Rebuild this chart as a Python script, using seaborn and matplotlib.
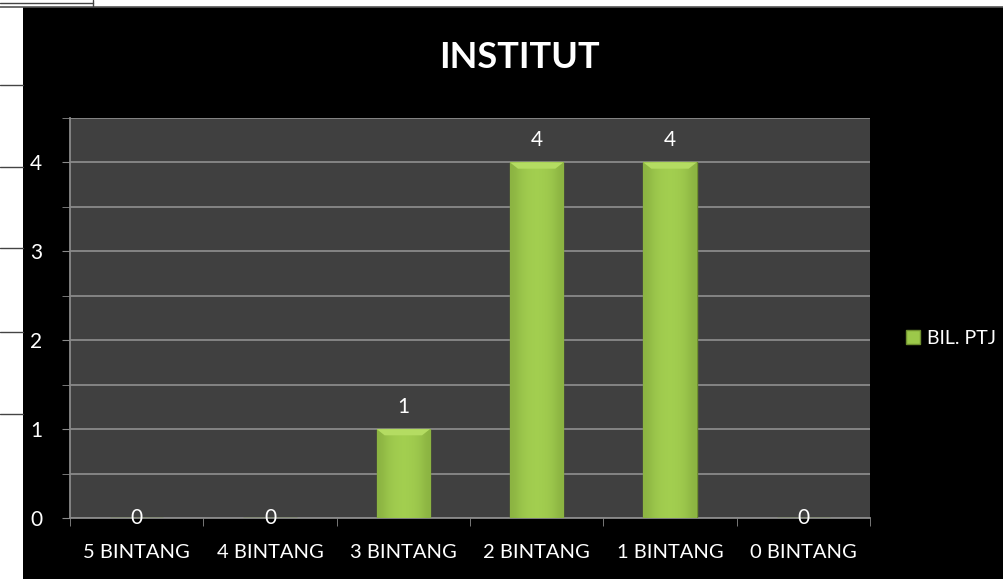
import matplotlib
matplotlib.use("Agg")
import matplotlib.pyplot as plt
import matplotlib.lines as mlines
import matplotlib.patches as mpatches
import seaborn as sns
import numpy as np
import pandas as pd

# data
categories = ["5 BINTANG", "4 BINTANG", "3 BINTANG", "2 BINTANG", "1 BINTANG", "0 BINTANG"]
values = [0, 0, 1, 4, 4, 0]
series_name = "BIL. PTJ"
title = "INSTITUT"

df = pd.DataFrame({"kategori": categories, "bil": values})

sns.set_style("dark")
plt.rcParams["font.family"] = ["Lato", "DejaVu Sans"]

fig = plt.figure(figsize=(10.04, 5.79), dpi=100)
fig.patch.set_facecolor("white")

# black chart panel sitting on a white page
fig.add_artist(mpatches.Rectangle((23 / 1004, 0), 1 - 23 / 1004, 1 - 7 / 579,
                                  transform=fig.transFigure, facecolor="black",
                                  edgecolor="none", zorder=0))
fig.add_artist(mlines.Line2D([0, 1], [1 - 7 / 579] * 2, color="#555555", lw=1.2))
fig.add_artist(mlines.Line2D([0, 93 / 1004], [1 - 3 / 579] * 2, color="#444444", lw=1))
fig.add_artist(mlines.Line2D([93 / 1004] * 2, [1 - 7 / 579, 1], color="#444444", lw=1))
for yy in [85, 167, 248, 332, 414]:
    fig.add_artist(mlines.Line2D([0, 23 / 1004], [1 - yy / 579] * 2, color="#444444", lw=1))

ax = fig.add_axes([70 / 1004, 61 / 579, 800 / 1004, 400 / 579])
ax.set_facecolor("#404040")

sns.barplot(data=df, x="kategori", y="bil", color="#9cc94a", width=0.4,
            edgecolor="#6f8f2f", linewidth=1, saturation=1, ax=ax, zorder=3,
            label=series_name)

# soft shading on the bars, like the bevelled Excel look
shade = np.array([[0.55, 0.85, 0.95, 1.0, 0.95, 0.85, 0.55]])
cmap = matplotlib.colors.LinearSegmentedColormap.from_list("g", ["#6f9231", "#a3cf50"])
for p in ax.patches:
    if p.get_height() > 0:
        x0, w, h = p.get_x(), p.get_width(), p.get_height()
        im = ax.imshow(shade, cmap=cmap, vmin=0, vmax=1, aspect="auto",
                       extent=(x0, x0 + w, 0, h), zorder=3.5, interpolation="bicubic")
        im.set_clip_path(p)
        ax.add_patch(mpatches.Polygon([(x0, h), (x0 + w, h), (x0 + w * 0.85, h - 0.07),
                                       (x0 + w * 0.15, h - 0.07)],
                                      facecolor="#b4dc62", edgecolor="none", zorder=3.6))
ax.set_aspect("auto")

ax.set_ylim(0, 4.5)
ax.set_xlim(-0.5, len(categories) - 0.5)
ax.set_yticks([0, 1, 2, 3, 4])
ax.set_yticks([0.5, 1.5, 2.5, 3.5, 4.5], minor=True)
ax.yaxis.grid(True, which="both", color="#8a8a8a", lw=1.3)
ax.xaxis.grid(False)
ax.set_axisbelow(True)

ax.set_xticks([i for i in range(len(categories))])
ax.set_xticklabels(categories)
ax.set_xticks([i - 0.5 for i in range(len(categories) + 1)], minor=True)
ax.tick_params(axis="x", which="major", length=0, pad=19, labelsize=14.5, labelcolor="white")
ax.tick_params(axis="x", which="minor", length=6, color="#8a8a8a", direction="out", bottom=True)
ax.tick_params(axis="y", which="both", length=6, color="#8a8a8a", direction="out", left=True,
               labelsize=15, labelcolor="white", pad=14)
ax.set_xlabel("")
ax.set_ylabel("")

for side in ["top", "right"]:
    ax.spines[side].set_visible(False)
for side in ["left", "bottom"]:
    ax.spines[side].set_visible(True)
    ax.spines[side].set_color("#8a8a8a")
    ax.spines[side].set_linewidth(1.3)

# data labels
for i, v in enumerate(values):
    off = 22 if v > 0 else 0
    ax.annotate(str(v), (i, v), xytext=(0, off), textcoords="offset pixels",
                ha="center", va="center", color="white", fontsize=15)

fig.text(0.5175, 1 - 57 / 579, title, ha="center", va="center", color="white",
         fontsize=26, fontweight="bold")

leg = ax.legend(loc="center left", bbox_to_anchor=(906 / 1004, 1 - 338 / 579),
                bbox_transform=fig.transFigure, frameon=False, fontsize=14,
                handlelength=0.7, handleheight=0.7, handletextpad=0.4,
                borderpad=0, borderaxespad=0, labelcolor="white")

fig.savefig("out.png", dpi=100, facecolor=fig.get_facecolor())
